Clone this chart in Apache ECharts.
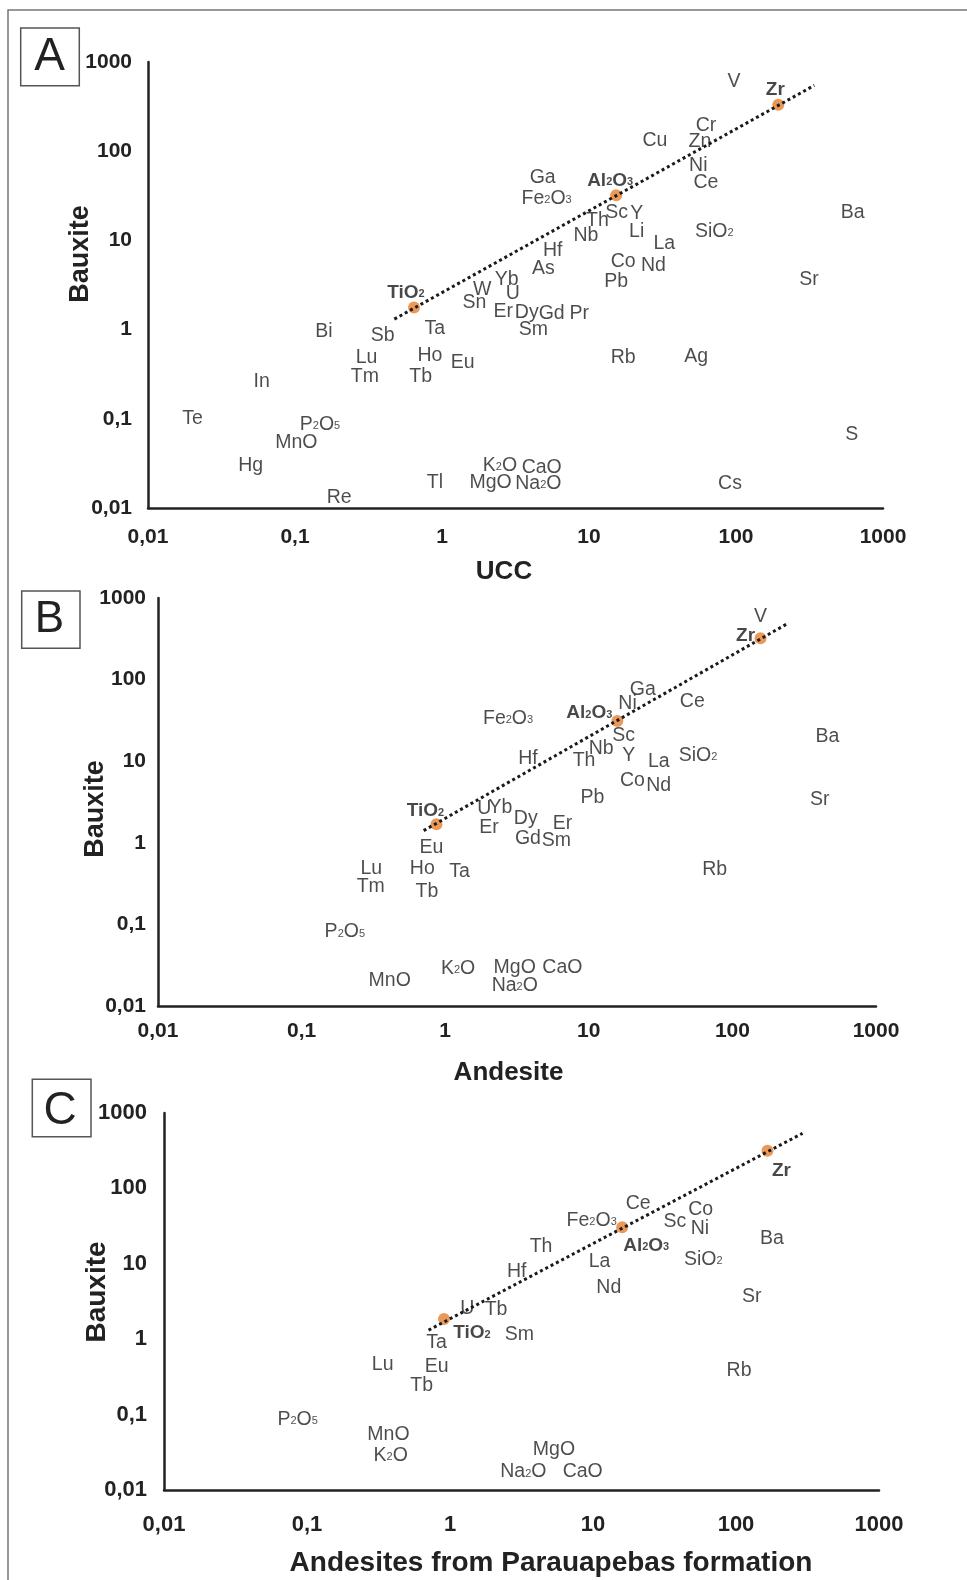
<!DOCTYPE html>
<html><head><meta charset="utf-8">
<script src="https://cdn.jsdelivr.net/npm/echarts@6/dist/echarts.min.js"></script>
<style>html,body{margin:0;padding:0;background:#fff}#c{width:967px;height:1580px}</style>
</head><body><div id="c"></div>
<script>
// ---------- DATA ----------
const tickLabels = ['0,01','0,1','1','10','100','1000'];
const refNames = ['TiO2','Al2O3','Zr'];

// Panel A : Bauxite vs UCC
const namesA = ['V','Cr','Cu','Zn','Ni','Ce','Ga','Fe2O3','Sc','Y','Th','Nb','Li','La','SiO2','Ba','Hf','As','Co','Nd','Pb','Sr','Yb','W','U','Sn','Er','Dy','Gd','Pr','Sm','Rb','Ag','S','K2O','CaO','MgO','Na2O','Cs','Bi','Sb','Ta','Lu','Tm','Ho','Tb','Eu','In','Te','P2O5','MnO','Hg','Re','Tl'];
const uccA = [97,62.5,28.1,56.9,55.4,62.5,4.84,5.15,15.4,21.1,11.4,9.54,21.1,32.5,71.2,622,5.66,4.89,17.1,27.4,15.3,314,2.75,1.88,3.03,1.66,2.61,3.77,5.57,8.59,4.18,17.1,53.5,613,2.48,4.77,2.14,4.52,91.0,0.157,0.395,0.895,0.307,0.299,0.828,0.716,1.38,0.0593,0.0201,0.148,0.102,0.050,0.200,0.895];
const bauxA = [639,205,138,135,72.7,46.9,53.3,30.7,21.7,21.2,17.4,11.8,13.2,9.6,13.2,21.7,8.13,5.02,6.07,5.47,3.68,3.78,3.81,2.93,2.64,2.14,1.66,1.63,1.59,1.59,1.06,0.506,0.520,0.0697,0.0316,0.0302,0.0202,0.0196,0.0196,0.993,0.912,1.08,0.506,0.315,0.543,0.315,0.445,0.272,0.105,0.0912,0.0566,0.0316,0.0136,0.0201];
const uccRef = [0.645,15.3,194];
const bauxRefA = [1.77,32.0,332];
const trendXA = [0.474,341];
const trendYA = [1.31,547];

// Panel B : Bauxite vs Andesite
const namesB = ['V','Ga','Ni','Ce','Fe2O3','Sc','Nb','Th','Hf','Y','La','SiO2','Ba','Co','Nd','Pb','Sr','U','Yb','Dy','Er','Er','Gd','Sm','Rb','Eu','Lu','Ho','Ta','Tm','Tb','P2O5','MnO','K2O','MgO','CaO','Na2O'];
const andB = [157,23.8,18.6,52.6,2.74,17.5,12.2,9.26,3.77,19.0,30.7,57.6,459,20.1,30.7,10.6,405,1.87,2.42,3.64,2.02,6.55,3.77,5.95,75.3,0.802,0.306,0.693,1.26,0.303,0.746,0.200,0.411,1.23,3.05,6.55,3.05];
const bauxB = [619,80.5,53.6,56.2,35.1,22.0,15.1,10.9,11.4,12.5,10.6,12.5,20.9,6.05,5.36,3.75,3.61,2.78,2.86,2.09,1.61,1.81,1.19,1.13,0.501,0.920,0.509,0.509,0.473,0.304,0.264,0.0853,0.0218,0.0303,0.0309,0.0309,0.0190];
const andRef = [0.869,15.8,157];
const bauxRefB = [1.69,31.1,321];
const trendXB = [0.708,244];
const trendYB = [1.41,490];

// Panel C : Bauxite vs Andesites from Parauapebas formation
const namesC = ['Ce','Fe2O3','Sc','Co','Ni','Ba','Th','La','SiO2','Hf','Nd','Sr','Tb','U','Sm','Ta','Lu','Eu','Tb','P2O5','MnO','K2O','Rb','MgO','Na2O','CaO'];
const parC = [20.7,9.79,37.4,56.6,56.0,178,4.33,11.1,59.0,2.93,12.9,129,2.10,1.32,3.05,0.805,0.338,0.807,0.634,0.0861,0.371,0.385,105,5.33,3.26,8.47];
const bauxC = [66.6,40.1,38.9,56.1,31.0,22.9,17.7,11.2,12.0,8.28,5.08,3.86,2.65,2.67,1.24,0.946,0.488,0.455,0.260,0.0920,0.0575,0.0307,0.411,0.0368,0.0184,0.0184];
const parRef = [0.908,16.0,166];
const bauxRefC = [1.85,30.5,316];
const trendXC = [0.708,292];
const trendYC = [1.32,538];

// ---------- STYLE ----------
const FONT = "'Liberation Sans', Arial, Helvetica, sans-serif";
const NARROW = "'Liberation Sans Narrow', 'Arial Narrow', 'Liberation Sans', sans-serif";
const LABEL_COLOR = '#1f1f1f';
const refOffsets = [
  [[-8,-15],[-6,-15],[-3,-15]],
  [[-11,-13],[-28,-8],[-15,-3]],
  [[28,14],[24,18],[14,20]]
];
const panels = [
  {names:namesA, xs:uccA, ys:bauxA, rx:uccRef, ry:bauxRefA, tx:trendXA, ty:trendYA,
   grid:{left:148, top:62, width:735, height:446},
   xName:'UCC', xNameSize:26, xGap:51, xPad:[0,23,0,0],
   yNameSize:27, yGap:54, yPad:[0,0,0,62],
   tickFont:FONT, tickSize:21, xMargin:19, yMargin:16},
  {names:namesB, xs:andB, ys:bauxB, rx:andRef, ry:bauxRefB, tx:trendXB, ty:trendYB,
   grid:{left:158, top:598, width:718, height:408},
   xName:'Andesite', xNameSize:26, xGap:54, xPad:[0,17,0,0],
   yNameSize:27, yGap:49, yPad:[0,14,0,0],
   tickFont:FONT, tickSize:21, xMargin:15, yMargin:12},
  {names:namesC, xs:parC, ys:bauxC, rx:parRef, ry:bauxRefC, tx:trendXC, ty:trendYC,
   grid:{left:164, top:1113, width:715, height:377},
   xName:'Andesites from Parauapebas formation', xNameSize:28, xGap:59, xPad:[0,0,0,59],
   yNameSize:28, yGap:53, yPad:[0,0,0,19],
   tickFont:NARROW, tickSize:22, xMargin:24, yMargin:17}
];

function rich(name){ return name.replace(/(\d+)/g, '{s|$1}'); }
function tick(v){ const i = Math.round(Math.log10(v)) + 2; return tickLabels[i] !== undefined ? tickLabels[i] : ''; }

const grid = [], xAxis = [], yAxis = [], series = [];
panels.forEach((p, i) => {
  grid.push(Object.assign({containLabel:false}, p.grid));
  const axisCommon = {
    type:'log', logBase:10, min:0.01, max:1000, gridIndex:i,
    axisLine:{show:true, onZero:false, lineStyle:{color:'#222', width:2.5}},
    axisTick:{show:false}, splitLine:{show:false}, minorTick:{show:false},
    nameLocation:'middle', nameMoveOverlap:false
  };
  xAxis.push(Object.assign({}, axisCommon, {
    name:p.xName, nameGap:p.xGap,
    nameTextStyle:{fontSize:p.xNameSize, fontWeight:'bold', color:'#222', fontFamily:FONT, padding:p.xPad},
    axisLabel:{formatter:tick, fontSize:p.tickSize, fontWeight:'bold', color:'#222', fontFamily:p.tickFont, margin:p.xMargin}
  }));
  yAxis.push(Object.assign({}, axisCommon, {
    name:'Bauxite', nameGap:p.yGap,
    nameTextStyle:{fontSize:p.yNameSize, fontWeight:'bold', color:'#222', fontFamily:FONT, padding:p.yPad},
    axisLabel:{formatter:tick, fontSize:p.tickSize, fontWeight:'bold', color:'#222', fontFamily:p.tickFont, margin:p.yMargin}
  }));
  // element labels
  series.push({
    type:'scatter', xAxisIndex:i, yAxisIndex:i, silent:true, z:3,
    symbolSize:1, itemStyle:{color:'rgba(0,0,0,0)'},
    data:p.names.map((n,k) => ({name:n, value:[p.xs[k], p.ys[k]]})),
    label:{show:true, position:'inside', offset:[0,2], formatter:q => rich(q.name),
      fontSize:19.5, color:LABEL_COLOR, fontFamily:FONT, lineHeight:20,
      rich:{s:{fontSize:11, verticalAlign:'bottom', padding:[0,0,3,0], color:LABEL_COLOR, fontFamily:FONT}}}
  });
  // reference oxides (orange dots)
  series.push({
    type:'scatter', xAxisIndex:i, yAxisIndex:i, silent:true, z:4,
    symbolSize:12, itemStyle:{color:'#e6802e'},
    data:refNames.map((n,k) => ({name:n, value:[p.rx[k], p.ry[k]],
      label:{offset:refOffsets[i][k]}})),
    label:{show:true, position:'inside', formatter:q => rich(q.name),
      fontSize:19, fontWeight:'bold', color:'#1a1a1a', fontFamily:FONT, lineHeight:20,
      rich:{s:{fontSize:11, fontWeight:'bold', verticalAlign:'bottom', padding:[0,0,3,0], color:'#1a1a1a', fontFamily:FONT}}}
  });
  // dotted trend line
  series.push({
    type:'line', xAxisIndex:i, yAxisIndex:i, silent:true, z:5,
    symbol:'none', data:p.tx.map((x,k) => [x, p.ty[k]]),
    lineStyle:{type:'dotted', width:3, color:'#1a1a1a'}
  });
});

const graphic = [
  {type:'rect', silent:true, z:-10, shape:{x:8, y:10, width:990, height:1600},
   style:{fill:'none', stroke:'#777', lineWidth:1.5}},
  {type:'rect', silent:true, shape:{x:20.7, y:28, width:58.6, height:57.7}, style:{fill:'#fff', stroke:'#555', lineWidth:1.5}},
  {type:'text', silent:true, x:49.5, y:57, style:{text:'A', fontSize:46, fontFamily:FONT, fill:'#222', align:'center', verticalAlign:'middle'}},
  {type:'rect', silent:true, shape:{x:21.7, y:591, width:58.3, height:57.3}, style:{fill:'#fff', stroke:'#555', lineWidth:1.5}},
  {type:'text', silent:true, x:49.5, y:620, style:{text:'B', fontSize:44, fontFamily:FONT, fill:'#222', align:'center', verticalAlign:'middle'}},
  {type:'rect', silent:true, shape:{x:32.3, y:1079.3, width:58.7, height:57.4}, style:{fill:'#fff', stroke:'#555', lineWidth:1.5}},
  {type:'text', silent:true, x:60, y:1111, style:{text:'C', fontSize:46, fontFamily:FONT, fill:'#222', align:'center', verticalAlign:'middle'}}
];

const chart = echarts.init(document.getElementById('c'), null, {renderer:'canvas'});
chart.setOption({
  backgroundColor:'#ffffff',
  animation:false,
  grid, xAxis, yAxis, series, graphic
});
</script>
</body></html>
